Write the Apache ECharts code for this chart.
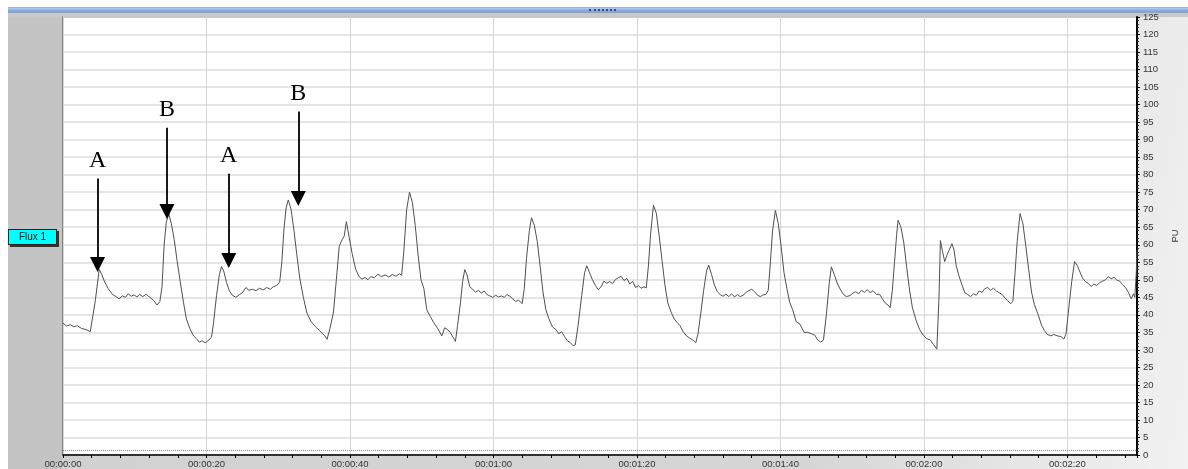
<!DOCTYPE html>
<html>
<head>
<meta charset="utf-8">
<script src="https://cdn.jsdelivr.net/npm/echarts@6/dist/echarts.min.js"></script>
<style>
html,body{margin:0;padding:0;width:1188px;height:469px;overflow:hidden;}
body{position:relative;background:linear-gradient(100deg,#d0d0d0 0%,#d6d6d6 70%,#f2f2f2 100%);}
#leftstrip{position:absolute;left:0;top:0;width:8px;height:469px;background:#ffffff;}
#topwhite{position:absolute;left:0;top:0;width:1188px;height:7px;background:#ffffff;}
#topbar{position:absolute;left:8px;top:7px;width:1180px;height:6px;background:linear-gradient(#9a9a9a 0px,#b8cdf0 1px,#8eaee0 3px,#7b9fd8 6px);}
#topgray{position:absolute;left:8px;top:13px;width:1180px;height:4px;background:#c8c8c8;}
#leftpanel{position:absolute;left:8px;top:17px;width:54px;height:452px;background:#c4c4c4;}
#grip{position:absolute;left:589px;top:9px;width:27px;height:0;border-top:2px dotted #3a4a6a;}
#flux{position:absolute;left:8px;top:229px;width:47px;height:14px;background:#00ffff;border:1px solid #222;box-shadow:2px 2px 0 #333;font:10px "Liberation Sans",Arial,sans-serif;color:#111;text-align:center;line-height:14px;}
#chart{position:absolute;left:0;top:0;width:1188px;height:469px;}
</style>
</head>
<body>
<div id="leftstrip"></div>
<div id="topwhite"></div>
<div id="topbar"></div>
<div id="topgray"></div>
<div id="leftpanel"></div>
<div id="grip"></div>
<div id="chart"></div>
<div id="flux">Flux 1</div>
<script>
// time (s) and flux (PU)
const times = [0.0,0.5,1.0,1.5,2.0,2.6,3.2,3.8,4.0,4.5,5.05,5.4,5.8,6.3,6.9,7.4,7.8,8.3,8.7,9.1,9.5,9.9,10.3,10.7,11.1,11.6,12.1,12.6,13.1,13.5,13.8,14.1,14.4,14.75,15.1,15.5,15.9,16.3,16.8,17.2,17.7,18.2,18.6,19.0,19.4,19.8,20.2,20.7,21.0,21.4,21.8,22.1,22.4,22.8,23.2,23.6,24.1,24.6,25.0,25.5,25.9,26.4,26.9,27.4,27.9,28.4,28.9,29.3,29.8,30.2,30.5,30.8,31.1,31.4,31.8,32.2,32.6,33.0,33.5,34.0,34.6,35.2,35.7,36.1,36.5,36.8,37.2,37.7,38.1,38.5,38.9,39.2,39.5,39.9,40.3,40.8,41.3,41.7,42.1,42.5,42.9,43.4,43.9,44.4,44.9,45.4,45.9,46.4,46.9,47.2,47.5,47.9,48.3,48.7,49.1,49.5,49.9,50.3,50.7,51.2,51.7,52.2,52.8,53.2,53.6,54.0,54.4,54.7,55.0,55.4,55.7,56.0,56.3,56.7,57.1,57.5,57.9,58.3,58.7,59.1,59.5,59.9,60.3,60.7,61.1,61.5,61.9,62.3,62.7,63.1,63.5,64.0,64.3,64.6,65.0,65.3,65.7,66.1,66.5,66.9,67.3,67.7,68.2,68.7,69.1,69.5,69.9,70.3,70.7,71.1,71.4,71.8,72.3,72.7,73.0,73.4,73.8,74.2,74.6,75.0,75.4,75.8,76.2,76.6,77.0,77.4,77.8,78.2,78.6,79.0,79.4,79.8,80.2,80.6,81.0,81.3,81.6,81.9,82.3,82.7,83.1,83.5,83.9,84.3,84.8,85.2,85.6,86.0,86.5,86.9,87.3,87.8,88.2,88.5,88.9,89.3,89.7,90.0,90.4,90.8,91.2,91.6,92.0,92.4,92.8,93.2,93.6,94.0,94.4,94.8,95.2,95.6,96.0,96.4,96.8,97.2,97.6,98.0,98.3,98.6,98.9,99.3,99.7,100.1,100.5,100.9,101.3,101.7,102.2,102.7,103.3,103.8,104.3,104.8,105.2,105.6,106.0,106.4,106.8,107.1,107.5,107.9,108.3,108.8,109.2,109.7,110.1,110.5,110.9,111.3,111.7,112.1,112.5,112.9,113.4,113.8,114.2,114.6,115.0,115.3,115.6,115.9,116.2,116.4,116.8,117.2,117.6,118.0,118.4,118.9,119.4,119.9,120.4,120.9,121.3,121.8,122.0,122.1,122.3,122.6,122.9,123.2,123.5,123.9,124.2,124.5,124.9,125.3,125.7,126.1,126.5,126.9,127.3,127.7,128.1,128.5,128.9,129.3,129.7,130.1,130.5,130.9,131.3,131.7,132.1,132.4,132.7,133.0,133.4,133.8,134.2,134.6,135.0,135.4,135.9,136.4,136.8,137.2,137.7,138.1,138.6,139.1,139.5,139.8,140.2,140.6,141.0,141.4,141.8,142.1,142.5,142.9,143.3,143.7,144.1,144.5,144.9,145.3,145.7,146.1,146.5,146.9,147.3,147.7,148.1,148.5,148.9,149.2,149.4,149.6,149.7];
const flux = [37.6,36.8,37.2,36.6,36.9,36.1,35.8,35.2,35.0,44.0,53.0,51.5,49.4,47.5,45.8,45.2,44.6,45.4,45.0,46.0,45.3,45.7,45.1,45.8,45.2,45.9,45.0,44.2,42.8,43.8,48.0,60.0,66.5,68.8,66.0,61.5,55.5,50.0,43.5,38.8,36.0,34.0,33.2,32.2,32.6,32.0,32.6,33.6,38.0,45.5,51.5,53.8,52.5,49.2,46.8,45.6,45.0,45.8,46.3,47.8,47.0,47.3,46.9,47.6,47.1,47.8,47.3,48.0,48.4,49.3,55.0,64.5,70.5,72.8,70.0,64.0,57.0,50.5,45.0,40.5,38.0,36.6,35.6,34.8,34.0,33.0,36.0,40.8,50.0,59.5,61.5,62.5,66.6,62.0,57.5,53.0,50.8,50.2,50.7,50.0,50.9,50.6,51.6,50.9,51.4,50.8,51.5,51.0,51.7,51.3,58.0,70.0,75.0,72.0,65.5,57.0,50.0,47.5,41.5,39.5,37.7,36.2,34.0,36.3,35.8,34.9,33.5,32.4,37.0,43.4,49.5,52.9,51.5,48.0,47.3,46.5,47.0,46.2,46.8,45.8,45.4,45.0,45.6,45.1,45.4,45.0,45.8,45.3,44.5,43.8,44.2,43.2,47.5,56.0,64.0,67.7,65.5,61.0,54.0,46.5,41.5,39.0,36.6,35.8,34.6,35.2,33.8,32.6,32.1,31.2,31.4,37.0,45.5,52.0,54.0,52.0,50.0,48.4,47.2,48.0,49.6,49.0,49.5,48.9,50.1,50.6,51.0,49.8,50.4,48.8,49.6,47.8,48.3,47.6,48.0,47.7,54.0,63.0,71.3,69.0,62.5,55.5,48.5,43.4,40.6,38.8,37.8,36.9,35.0,34.0,33.4,32.8,32.0,34.5,40.5,47.0,52.5,54.2,51.5,48.5,46.6,45.8,45.3,45.9,45.2,46.0,45.1,45.8,45.2,45.6,46.4,46.9,47.3,46.6,45.6,45.2,45.7,45.9,47.0,55.0,64.0,69.8,66.0,59.5,52.0,47.5,43.5,41.5,38.0,37.4,35.0,35.0,34.6,34.2,32.8,32.2,32.8,40.0,49.0,53.7,51.5,49.1,47.4,45.8,45.2,45.5,46.2,46.6,46.0,47.0,46.4,47.2,46.3,46.9,45.8,45.9,44.6,43.4,42.8,42.0,47.0,55.0,63.0,67.0,65.0,60.5,53.5,47.0,42.0,38.5,35.8,34.2,33.2,32.8,31.6,30.2,29.9,45.0,61.2,58.0,55.2,57.0,58.4,60.3,58.5,54.0,51.0,48.6,46.3,45.8,45.2,46.0,45.6,46.8,46.4,47.5,47.8,47.0,47.6,46.8,46.3,45.8,44.8,44.0,43.2,43.8,52.0,61.0,68.9,66.0,59.6,53.0,46.5,42.9,40.2,37.0,35.5,34.4,34.0,34.4,34.0,33.8,33.1,34.5,42.0,49.5,55.2,54.0,52.0,50.5,49.5,49.0,48.1,48.8,48.4,49.2,49.6,50.0,50.9,50.3,50.7,49.9,49.6,48.6,47.8,46.4,44.6,46.0,45.0,52.0,58.5];

// annotation arrows: label, time, arrow start value, arrow tip value
const annLabels = ['A','B','A','B'];
const annTimes  = [4.82, 14.49, 23.1, 32.8];
const annStart  = [78.9, 93.4, 80.3, 98.0];
const annTip    = [52.3, 67.4, 53.4, 71.1];

const xMin = 0, xMax = 149.7, xStep = 20;
const yMin = 0, yMax = 125, yStep = 5;
const baselineValue = 1.4;

function fmtTime(s){
  s = Math.round(s);
  const h = Math.floor(s/3600), m = Math.floor((s%3600)/60), ss = s%60;
  const p = n => String(n).padStart(2,'0');
  return p(h)+':'+p(m)+':'+p(ss);
}

const chart = echarts.init(document.getElementById('chart'), null, {renderer:'canvas'});
const headHalf = 2.1; // half arrowhead height in value units
const annData = annLabels.map((lab,i)=>[
  {coord:[annTimes[i], annStart[i]], label:{formatter:lab}},
  {coord:[annTimes[i], annTip[i]+headHalf]}
]);

chart.setOption({
  backgroundColor:'transparent',
  animation:false,
  grid:{left:63,right:47,top:17,bottom:14,show:true,backgroundColor:'#ffffff',borderColor:'#6a6a6a',borderWidth:1.5},
  xAxis:{
    type:'value',min:xMin,max:xMax,interval:xStep,
    axisLine:{show:true,onZero:false,lineStyle:{color:'#000',width:1.5}},
    axisTick:{show:true,length:3,lineStyle:{color:'#000'}},
    minorTick:{show:true,splitNumber:5,length:3,lineStyle:{color:'#000'}},
    splitLine:{show:true,lineStyle:{color:'#d6d6d6',width:1}},
    axisLabel:{formatter:fmtTime,fontSize:9.5,color:'#333',margin:4,showMaxLabel:false,fontFamily:'Liberation Sans, Arial, sans-serif'}
  },
  yAxis:{
    type:'value',position:'right',min:yMin,max:yMax,interval:yStep,
    name:'PU',nameLocation:'middle',nameRotate:90,nameGap:33,
    nameTextStyle:{fontSize:9.5,color:'#333',fontFamily:'Liberation Sans, Arial, sans-serif'},
    axisLine:{show:true,onZero:false,lineStyle:{color:'#000',width:2}},
    axisTick:{show:true,length:3,lineStyle:{color:'#000'}},
    minorTick:{show:true,splitNumber:5,length:2,lineStyle:{color:'#333'}},
    splitLine:{show:true,lineStyle:{color:'#dcdcdc',width:1.5}},
    axisLabel:{fontSize:9.5,color:'#333',margin:6,fontFamily:'Liberation Sans, Arial, sans-serif'}
  },
  series:[
    {
      type:'line',
      data:times.map((t,i)=>[t,flux[i]]),
      showSymbol:false,
      lineStyle:{color:'#505050',width:1},
      z:3,
      markLine:{
        silent:true,symbol:['none','none'],
        lineStyle:{color:'#8a8a8a',type:'dotted',width:1},
        label:{show:false},
        data:[{yAxis:baselineValue}]
      }
    },
    {
      type:'line',data:[],
      markLine:{
        silent:true,
        symbol:['none','triangle'],symbolSize:[15,15],
        lineStyle:{color:'#000',type:'solid',width:1.8},
        itemStyle:{color:'#000'},
        label:{show:true,position:'start',distance:6,color:'#000',fontSize:24,fontFamily:'Liberation Serif, Times New Roman, serif'},
        data:annData
      },
      z:5
    }
  ]
});
</script>
</body>
</html>
